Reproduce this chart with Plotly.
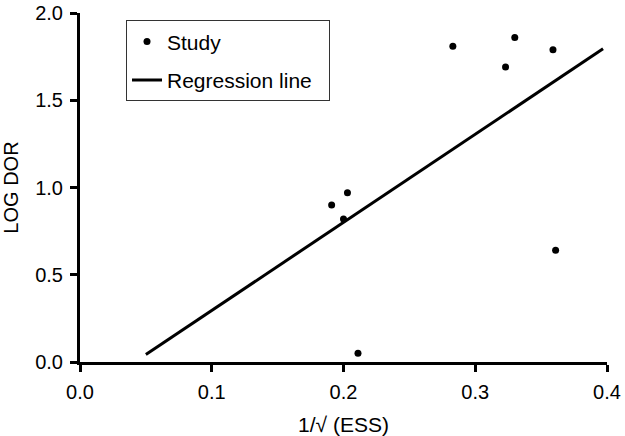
import plotly.graph_objects as go

# Study points (1/sqrt(ESS), log DOR)
study_x = [0.191, 0.200, 0.203, 0.211, 0.283, 0.323, 0.330, 0.359, 0.361]
study_y = [0.90, 0.82, 0.97, 0.05, 1.81, 1.69, 1.86, 1.79, 0.64]

# Regression line endpoints
reg_x = [0.050, 0.397]
reg_y = [0.043, 1.795]

x_ticks = [0.0, 0.1, 0.2, 0.3, 0.4]
x_tick_labels = ["0.0", "0.1", "0.2", "0.3", "0.4"]
y_ticks = [0.0, 0.5, 1.0, 1.5, 2.0]
y_tick_labels = ["0.0", "0.5", "1.0", "1.5", "2.0"]

FONT = "Liberation Sans, Arial, Helvetica, sans-serif"
FS = 20

fig = go.Figure()
fig.add_trace(go.Scatter(
    x=study_x, y=study_y, mode="markers", name="Study",
    marker=dict(color="black", size=7), legendgroup="a", cliponaxis=False,
))
fig.add_trace(go.Scatter(
    x=reg_x, y=reg_y, mode="lines", name="Regression line\u00a0\u00a0",
    line=dict(color="black", width=3), legendgroup="b", cliponaxis=False,
))

axis_common = dict(
    showgrid=False, zeroline=False, showline=True, linecolor="black", linewidth=3,
    ticks="outside", ticklen=7, tickwidth=3, tickcolor="black",
    tickfont=dict(family=FONT, size=FS, color="black"),
    automargin=False, ticklabeloverflow="allow",
)

fig.update_layout(
    width=625, height=436,
    margin=dict(l=80, r=18, t=12.5, b=73.5),
    paper_bgcolor="white", plot_bgcolor="white",
    font=dict(family=FONT, color="black"),
    xaxis=dict(range=[0, 0.4], tickvals=x_ticks, ticktext=x_tick_labels,
               ticklabelstandoff=3,
               title=dict(text="1/√ (ESS)", font=dict(family=FONT, size=21), standoff=22),
               **axis_common),
    yaxis=dict(range=[0, 2.0], tickvals=y_ticks, ticktext=y_tick_labels,
               ticklabelstandoff=3,
               title=dict(text="LOG DOR", font=dict(family=FONT, size=FS), standoff=13),
               **axis_common),
    legend=dict(x=0.0873, y=0.9786, xanchor="left", yanchor="top",
                bordercolor="#333", borderwidth=1, bgcolor="white",
                font=dict(family=FONT, size=21), tracegroupgap=8),
    showlegend=True,
)

fig.write_html("out.html",
               config={"displayModeBar": False},
               post_script="document.body.style.margin='0';document.body.style.overflow='hidden';")
